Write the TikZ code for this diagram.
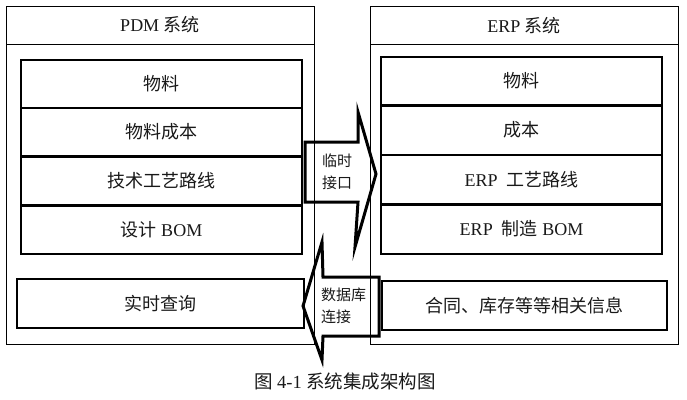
\documentclass[tikz,border=0pt]{standalone}
\usepackage{fontspec}
\setmainfont{Liberation Serif}
\newfontfamily\cjk{Noto Sans CJK SC}
\begin{document}
\begin{tikzpicture}[x=1pt,y=-1pt,
  txt/.style={text=black!90, font=\fontsize{18}{20}\selectfont},
  outerbox/.style={draw, line width=0.9pt, inner sep=0pt, minimum width=308pt},
  headbox/.style={outerbox, txt, minimum height=38pt},
  rowbox/.style={draw, line width=1.3pt, inner sep=0pt, minimum width=281pt, txt},
  infobox/.style={draw, line width=1.6pt, inner sep=0pt, minimum height=49pt, txt},
  thickline/.style={line width=2.2pt},
  bigarrow/.style={draw, line width=3pt, line join=miter},
  arrowtxt/.style={text=black!90, font=\fontsize{15}{22}\selectfont, inner sep=0pt}
]
\useasboundingbox (0,0) rectangle (687,399);

% PDM system
\node[outerbox, minimum height=338pt] (pdm) at (160,175) {};
\node[headbox] (pdmh) at (160,25) {PDM {\cjk 系统}};
\node[rowbox, minimum height=48pt] (p1) at (161.5,84) {{\cjk 物料}};
\node[rowbox, minimum height=48pt] (p2) at (161.5,132) {{\cjk 物料成本}};
\node[rowbox, minimum height=49pt] (p3) at (161.5,180.5) {{\cjk 技术工艺路线}};
\node[rowbox, minimum height=49pt] (p4) at (161.5,229.5) {{\cjk 设计} BOM};
\draw[thickline] (p2.south west) -- (p2.south east);
\draw[thickline] (p3.south west) -- (p3.south east);
\node[infobox, minimum width=287pt] (pq) at (160.5,303.5) {{\cjk 实时查询}};

% ERP system
\node[outerbox, minimum height=338pt] (erp) at (524,175) {};
\node[headbox] (erph) at (524,25.5) {ERP {\cjk 系统}};
\node[rowbox, minimum height=48pt] (e1) at (521.5,81) {{\cjk 物料}};
\node[rowbox, minimum height=50pt] (e2) at (521.5,130) {{\cjk 成本}};
\node[rowbox, minimum height=49pt] (e3) at (521.5,179.5) {ERP\ \ {\cjk 工艺路线}};
\node[rowbox, minimum height=50pt] (e4) at (521.5,229) {ERP\ \ {\cjk 制造} BOM};
\draw[thickline] (e1.south west) -- (e1.south east);
\draw[thickline] (e3.south west) -- (e3.south east);
\node[infobox, minimum width=285pt] (eq) at (524.5,305.5) {{\cjk 合同、库存等等相关信息}};

% Arrow PDM -> ERP
\draw[bigarrow] (305,142) -- (358,142) -- (358,112) -- (376,174) -- (355,247) -- (358,202) -- (305,202) -- cycle;
\node[arrowtxt, align=center] (a1) at (337,172) {{\cjk 临时}\\{\cjk 接口}};

% Arrow ERP -> PDM
\draw[bigarrow] (379,277) -- (323,277) -- (322,242) -- (303,306) -- (322,360) -- (323,336) -- (379,336) -- cycle;
\node[arrowtxt, align=left, anchor=west] (a2) at (321,306) {{\cjk 数据库}\\{\cjk 连接}};

% Caption
\node[text=black!90, font=\fontsize{18.5}{20}\selectfont] (cap) at (345,381) {{\cjk 图} 4-1 {\cjk 系统集成架构图}};
\end{tikzpicture}
\end{document}
